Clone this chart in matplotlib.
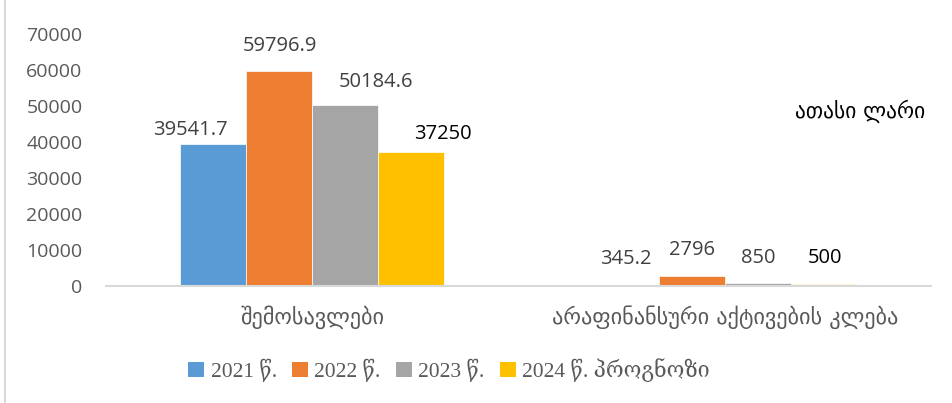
import matplotlib
matplotlib.use("Agg")
import matplotlib.pyplot as plt
import numpy as np
from matplotlib.patches import Patch

categories = ["შემოსავლები", "არაფინანსური აქტივების კლება"]
series_names = ["2021 წ.", "2022 წ.", "2023 წ.", "2024 წ. პროგნოზი"]
v2021 = [39541.7, 345.2]
v2022 = [59796.9, 2796]
v2023 = [50184.6, 850]
v2024 = [37250, 500]
label_text = [["39541.7", "345.2"], ["59796.9", "2796"], ["50184.6", "850"], ["37250", "500"]]
yticks = [0, 10000, 20000, 30000, 40000, 50000, 60000, 70000]
unit_label = "ათასი ლარი"

series = [v2021, v2022, v2023, v2024]
colors = ["#5B9BD5", "#ED7D31", "#A5A5A5", "#FFC000"]
label_colors = ["#404040", "#404040", "#404040", "#000000"]
# label offsets in pixels (dx, dy above bar top)
offs = [[(-23, 4), (0, 16)], [(1, 15), (0, 16)], [(31, 13), (0, 15)], [(32, 8), (1, 16)]]

W, H = 952, 403
fig = plt.figure(figsize=(W / 100, H / 100), dpi=100)
ax = fig.add_axes([106 / W, (H - 286) / H, 825 / W, 252 / H])

x = np.arange(len(categories))
bw = 0.16
px2pt = 72 / 100
num_font = ["Open Sans", "DejaVu Sans"]
for i, (vals, c) in enumerate(zip(series, colors)):
    xs = x + (i - 1.5) * bw
    ax.bar(xs, vals, width=bw, color=c, edgecolor="white", linewidth=0.5, zorder=2)
    for j, (xx, v) in enumerate(zip(xs, vals)):
        dx, dy = offs[i][j]
        ax.annotate(label_text[i][j], (xx, v), xytext=(dx * px2pt, dy * px2pt),
                    textcoords="offset points", ha="center", va="bottom",
                    fontsize=14.5, color=label_colors[i], family=num_font)

ax.set_xlim(-0.5, 1.5)
ax.set_ylim(0, 70000)
ax.set_yticks(yticks)
ax.set_yticklabels([str(t) for t in yticks], fontsize=14, color="#595959", family=num_font)
ax.set_xticks(x)
ax.set_xticklabels(categories, fontsize=16, color="#595959", family=["DejaVu Sans"])
ax.tick_params(axis="both", length=0)
ax.tick_params(axis="y", pad=17)
ax.tick_params(axis="x", pad=14)
for s in ["top", "right", "left"]:
    ax.spines[s].set_visible(False)
ax.spines["bottom"].set_color("#D9D9D9")
ax.spines["bottom"].set_linewidth(1.5)

fig.text(925 / W, 1 - 111 / H, unit_label, ha="right", va="center", fontsize=15.5,
         color="#000000", family=["DejaVu Sans"])

handles = [Patch(facecolor=c, edgecolor="none") for c in colors]
leg = fig.legend(handles, series_names, loc="center", bbox_to_anchor=(449 / W, 1 - 370 / H),
                 ncol=4, frameon=False, handlelength=0.75, handleheight=0.75,
                 handletextpad=0.3, columnspacing=0.7,
                 prop={"family": ["Liberation Serif", "DejaVu Serif", "DejaVu Sans"], "size": 15.5})
for t in leg.get_texts():
    t.set_color("#595959")

fig.add_artist(plt.Line2D([5 / W, 5 / W], [0, 1], transform=fig.transFigure, color="#D9D9D9", linewidth=1.5))

fig.savefig("out.png", dpi=100)
